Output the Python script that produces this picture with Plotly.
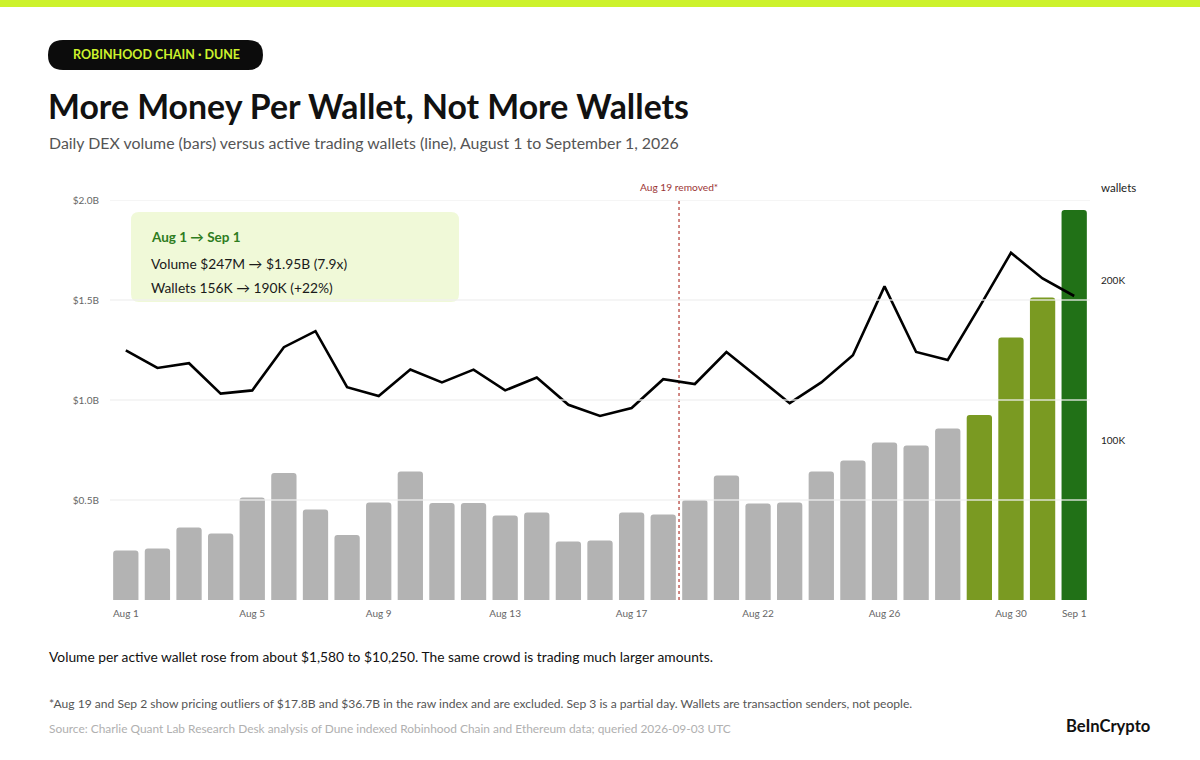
import plotly.graph_objects as go

# ---------------- data ----------------
dates = ["Aug 1", "Aug 2", "Aug 3", "Aug 4", "Aug 5", "Aug 6", "Aug 7", "Aug 8", "Aug 9",
         "Aug 10", "Aug 11", "Aug 12", "Aug 13", "Aug 14", "Aug 15", "Aug 16", "Aug 17",
         "Aug 18", "Aug 20", "Aug 21", "Aug 22", "Aug 23", "Aug 24", "Aug 25", "Aug 26",
         "Aug 27", "Aug 28", "Aug 29", "Aug 30", "Aug 31", "Sep 1"]
volume_b = [0.247, 0.258, 0.362, 0.333, 0.513, 0.635, 0.452, 0.325, 0.488,
            0.642, 0.485, 0.485, 0.422, 0.438, 0.292, 0.297, 0.437,
            0.428, 0.500, 0.622, 0.483, 0.487, 0.642, 0.697, 0.788,
            0.772, 0.858, 0.925, 1.313, 1.512, 1.950]
wallets = [156000, 145000, 148000, 129000, 131000, 158000, 168000, 133000, 127500,
           144000, 136000, 144000, 131000, 139000, 122000, 115000, 120000,
           138000, 135000, 155000, 139000, 123000, 136000, 153000, 196000,
           155000, 150000, 183000, 217000, 201000, 190000]
bar_group = ["base"] * 27 + ["surge"] * 3 + ["last"]

x_tick_vals = ["Aug 1", "Aug 5", "Aug 9", "Aug 13", "Aug 17", "Aug 22", "Aug 26", "Aug 30", "Sep 1"]
left_tick_vals = [0.5e9, 1.0e9, 1.5e9, 2.0e9]
left_tick_text = ["$0.5B", "$1.0B", "$1.5B", "$2.0B"]
right_tick_vals = [100000, 200000]
right_tick_text = ["100K", "200K"]
removed_position = 17.5  # between Aug 18 and Aug 20

# ---------------- styling ----------------
FONT = "Lato"
group_colors = {"base": "#b3b3b3", "surge": "#7a9a22", "last": "#217117"}

W, H = 1200, 760
L, R, T, B = 110, 110, 200, 160
PW, PH = W - L - R, H - T - B


def px(x):
    return (x - L) / PW


def py(y):
    return (H - B - y) / PH


def rounded_rect(x0, y0, x1, y1, r):
    # pixel coords -> path in paper coords
    rx = r / PW
    ry = r / PH
    X0, X1 = px(x0), px(x1)
    Yt, Yb = py(y0), py(y1)
    return (f"M {X0+rx},{Yt} L {X1-rx},{Yt} Q {X1},{Yt} {X1},{Yt-ry} "
            f"L {X1},{Yb+ry} Q {X1},{Yb} {X1-rx},{Yb} L {X0+rx},{Yb} "
            f"Q {X0},{Yb} {X0},{Yb+ry} L {X0},{Yt-ry} Q {X0},{Yt} {X0+rx},{Yt} Z")


fig = go.Figure()

fig.add_trace(go.Bar(
    x=dates, y=[v * 1e9 for v in volume_b],
    marker=dict(color=[group_colors[g] for g in bar_group], cornerradius=3, line=dict(width=0)),
    xaxis="x", yaxis="y", hoverinfo="skip", showlegend=False,
))

# gridlines drawn above bars (light) through an overlay x axis spanning the full width
gx, gy = [], []
for v in left_tick_vals:
    gx += [0, 1, None]
    gy += [v, v, None]
fig.add_trace(go.Scatter(
    x=gx, y=gy, mode="lines", line=dict(color="rgba(238,238,238,0.85)", width=1.5),
    xaxis="x2", yaxis="y", hoverinfo="skip", showlegend=False,
))

fig.add_trace(go.Scatter(
    x=dates, y=wallets, mode="lines", line=dict(color="#000000", width=2.6),
    xaxis="x", yaxis="y2", hoverinfo="skip", showlegend=False,
))

shapes = [
    # top lime band
    dict(type="rect", xref="paper", yref="paper", x0=px(0), x1=px(W), y0=py(7), y1=py(0),
         fillcolor="#cdf22c", line=dict(width=0), layer="below"),
    # pill
    dict(type="path", xref="paper", yref="paper", path=rounded_rect(48, 40, 263, 70, 15),
         fillcolor="#0c0c0c", line=dict(width=0), layer="below"),
    # callout box
    dict(type="path", xref="paper", yref="paper", path=rounded_rect(131, 212, 459, 302, 8),
         fillcolor="#f0f9d8", line=dict(width=0), layer="below"),
    # removed day marker
    dict(type="line", xref="x", yref="paper", x0=removed_position, x1=removed_position, y0=0, y1=1,
         line=dict(color="#c0605a", width=1.5, dash="dot"), layer="below"),
]

ann = []


def text(x, y, s, size, color, bold=False, xanchor="left", yanchor="middle"):
    ann.append(dict(xref="paper", yref="paper", x=px(x), y=py(y), text=(f"<b>{s}</b>" if bold else s),
                    showarrow=False, xanchor=xanchor, yanchor=yanchor,
                    font=dict(family=FONT, size=size, color=color)))


text(156, 55, "ROBINHOOD CHAIN · DUNE", 12.5, "#cdf22c", bold=True, xanchor="center")
text(46, 106, "More Money Per Wallet, Not More Wallets", 33.8, "#111111", bold=True)
text(47, 143, "Daily DEX volume (bars) versus active trading wallets (line), August 1 to September 1, 2026", 15.9, "#555555")
text(149, 237, "Aug 1 → Sep 1", 13.5, "#2e7d1e", bold=True)
text(149, 263, "Volume $247M → $1.95B (7.9x)", 13.8, "#1a1a1a")
text(149, 287, "Wallets 156K → 190K (+22%)", 13.8, "#1a1a1a")
text(1099, 187, "wallets", 11.5, "#222222")
ann.append(dict(xref="x", yref="paper", x=removed_position, y=py(187), text="Aug 19 removed*",
                showarrow=False, xanchor="center", yanchor="middle",
                font=dict(family=FONT, size=10.2, color="#9b3535")))
text(47, 656, "Volume per active wallet rose from about $1,580 to $10,250. The same crowd is trading much larger amounts.", 13.8, "#111111")
text(47, 703, "*Aug 19 and Sep 2 show pricing outliers of $17.8B and $36.7B in the raw index and are excluded. Sep 3 is a partial day. Wallets are transaction senders, not people.", 12.1, "#555555")
text(47, 728, "Source: Charlie Quant Lab Research Desk analysis of Dune indexed Robinhood Chain and Ethereum data; queried 2026-09-03 UTC", 11.9, "#b0b0b0")
text(1152, 726, "BeInCrypto", 16.6, "#111111", bold=True, xanchor="right")

fig.update_layout(
    width=W, height=H,
    margin=dict(l=L, r=R, t=T, b=B, pad=0),
    paper_bgcolor="white", plot_bgcolor="white",
    font=dict(family=FONT, color="#666666"),
    bargap=0.2,
    showlegend=False,
    shapes=shapes,
    annotations=ann,
    xaxis=dict(type="category", categoryorder="array", categoryarray=dates,
               tickmode="array", tickvals=x_tick_vals, ticktext=x_tick_vals,
               tickfont=dict(family=FONT, size=10, color="#666666"),
               showgrid=False, showline=False, zeroline=False, ticks="", ticklabelstandoff=6,
               range=[-0.5, len(dates) - 0.5]),
    xaxis2=dict(overlaying="x", range=[0, 1], visible=False, fixedrange=True),
    yaxis=dict(range=[0, 2.0e9], tickmode="array", tickvals=left_tick_vals, ticktext=left_tick_text,
               tickfont=dict(family=FONT, size=10, color="#666666"),
               showgrid=False, zeroline=False, showline=False, ticks="", ticklabelstandoff=10),
    yaxis2=dict(overlaying="y", side="right", range=[0, 250000], tickmode="array",
                tickvals=right_tick_vals, ticktext=right_tick_text,
                tickfont=dict(family=FONT, size=10, color="#222222"),
                showgrid=False, zeroline=False, showline=False, ticks="", ticklabelstandoff=10),
)

fig.write_html("out.html", config={"displayModeBar": False},
               post_script="document.body.style.margin='0';")
